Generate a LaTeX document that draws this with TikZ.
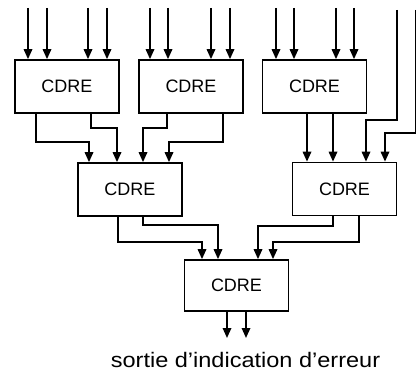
\documentclass[tikz,border=0pt]{standalone}
\usepackage{fontspec}
\setmainfont{Liberation Sans}
\usetikzlibrary{arrows.meta}
\begin{document}
\begin{tikzpicture}[x=1pt,y=-1pt,
  box/.style={draw,line width=1.7pt,minimum width=104pt,minimum height=53pt,inner sep=0pt,font=\fontsize{18}{20}\selectfont},
  wire/.style={line width=1.7pt},
  arr/.style={wire,-{Triangle[width=8.5pt,length=10pt]}}]
\useasboundingbox (0,0) rectangle (417,374);
\node[box] (b1) at (67,86.5) {CDRE};
\node[box] (b2) at (191,86.5) {CDRE};
\node[box] (b3) at (314.5,86.5) {CDRE};
\node[box] (b4) at (130,189.5) {CDRE};
\node[box] (b5) at (344.5,189) {CDRE};
\node[box,minimum height=51pt] (b6) at (236.5,285.5) {CDRE};
% top inputs
\foreach \x/\b in {28/b1,47/b1,88/b1,107/b1,150/b2,168/b2,211/b2,230/b2,276/b3,294/b3,336/b3,354/b3}
  \draw[arr] (\x,8) -- (\x,0 |- \b.north);
% b1,b2 -> b4
\draw[arr] (36,0 |- b1.south) -- (36,142) -- (89,142) -- (89,0 |- b4.north);
\draw[arr] (91,0 |- b1.south) -- (91,128) -- (117,128) -- (117,0 |- b4.north);
\draw[arr] (167,0 |- b2.south) -- (167,128) -- (143,128) -- (143,0 |- b4.north);
\draw[arr] (223,0 |- b2.south) -- (223,142) -- (169,142) -- (169,0 |- b4.north);
% b3 + extras -> b5
\draw[arr] (307,0 |- b3.south) -- (307,0 |- b5.north);
\draw[arr] (333,0 |- b3.south) -- (333,0 |- b5.north);
\coordinate (e1) at (397,10);
\coordinate (e2) at (415.5,10);
\draw[arr] (e1) -- (397,120) -- (366,120) -- (366,0 |- b5.north);
\draw[arr] (e2) -- (415.5,133) -- (385,133) -- (385,0 |- b5.north);
% b4,b5 -> b6
\draw[arr] (118,0 |- b4.south) -- (118,242) -- (202,242) -- (202,0 |- b6.north);
\draw[arr] (143,0 |- b4.south) -- (143,225) -- (218,225) -- (218,0 |- b6.north);
\draw[arr] (333,0 |- b5.south) -- (333,226) -- (258,226) -- (258,0 |- b6.north);
\draw[arr] (359,0 |- b5.south) -- (359,242) -- (273,242) -- (273,0 |- b6.north);
% outputs
\coordinate (o1) at (227,338);
\coordinate (o2) at (246,338);
\draw[arr] (227,0 |- b6.south) -- (o1);
\draw[arr] (246,0 |- b6.south) -- (o2);
\node[anchor=base,font=\fontsize{21}{23}\selectfont,inner sep=0pt] (lbl) at (245.5,367) {\scalebox{1.12}[1]{sortie d’indication d’erreur}};
\end{tikzpicture}
\end{document}
